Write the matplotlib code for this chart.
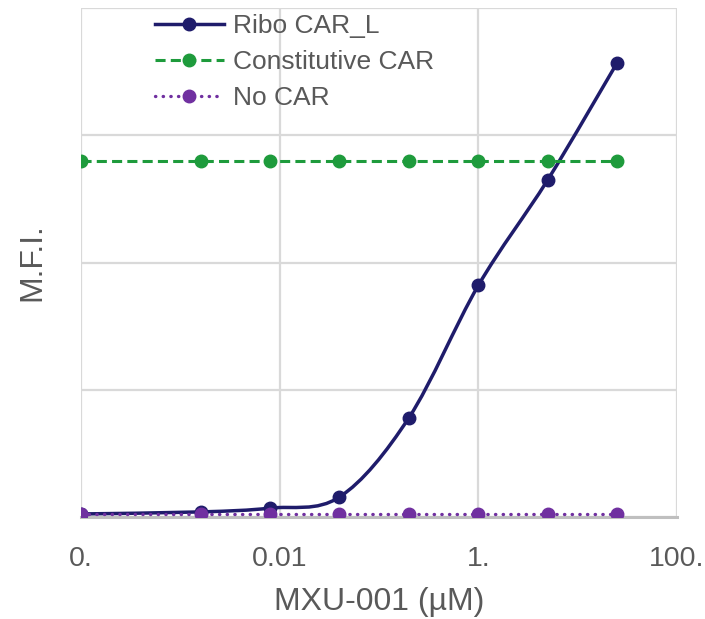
import numpy as np
import matplotlib.pyplot as plt
from matplotlib.path import Path
from matplotlib.patches import PathPatch
from matplotlib.lines import Line2D

plt.rcParams['font.family'] = ['Liberation Sans', 'DejaVu Sans']

# MXU-001 concentrations (uM); first point is the "0" dose drawn at the axis minimum
conc = [0.0001, 0.0016, 0.008, 0.04, 0.2, 1.0, 5.0, 25.0]
ribo = [0.024, 0.04, 0.07, 0.157, 0.78, 1.82, 2.65, 3.57]
constitutive = [2.80] * 8
no_car = [0.02] * 8

xticks = [0.0001, 0.01, 1, 100]
xticklabels = ["0.", "0.01", "1.", "100."]

navy = "#1f1c6b"
green = "#1e9b3c"
purple = "#7030a0"
grey_text = "#595959"


def smooth_path(xs, ys):
    # excel-like smoothed line: catmull-rom converted to cubic bezier in (log x, y)
    lx = np.log10(xs)
    y = np.asarray(ys, float)
    pts = np.column_stack([lx, y])
    n = len(pts)
    verts = [pts[0]]
    codes = [Path.MOVETO]
    for i in range(n - 1):
        p0 = pts[max(i - 1, 0)]
        p1 = pts[i]
        p2 = pts[i + 1]
        p3 = pts[min(i + 2, n - 1)]
        c1 = p1 + (p2 - p0) / 6.0
        c2 = p2 - (p3 - p1) / 6.0
        verts += [c1, c2, p2]
        codes += [Path.CURVE4] * 3
    verts = np.array(verts)
    verts[:, 0] = 10 ** verts[:, 0]
    return Path(verts, codes)


fig = plt.figure(figsize=(7.05, 6.19), dpi=100)
ax = fig.add_axes([81 / 705, 1 - 517 / 619, (677 - 81) / 705, (517 - 8) / 619])
ax.set_xscale("log")

# Ribo CAR_L: smooth line + markers
ax.add_patch(PathPatch(smooth_path(conc, ribo), facecolor="none", edgecolor=navy,
                       lw=2.5, zorder=3, capstyle="round"))
ax.plot(conc, ribo, ls="none", marker="o", ms=9, color=navy, zorder=3.1)

ax.plot(conc, constitutive, color=green, lw=2.2, dashes=(3.3, 1.7),
        marker="o", ms=9, zorder=4)
ax.plot(conc, no_car, color=purple, lw=2.4, dashes=(0.1, 2.2), dash_capstyle="round",
        marker="o", ms=9, zorder=5)

ax.set_xlim(0.0001, 100)
ax.set_ylim(0, 4)
ax.set_xticks(xticks)
ax.set_xticklabels(xticklabels)
ax.minorticks_off()
ax.set_yticks([0, 1, 2, 3, 4])
ax.set_yticklabels([])
ax.tick_params(axis="x", length=0, labelsize=20.5, colors=grey_text, pad=21)
ax.tick_params(axis="y", length=0, pad=0)
ax.grid(True, color="#d9d9d9", lw=1.6)
ax.set_axisbelow(True)
for s in ["left", "right", "top"]:
    ax.spines[s].set_visible(False)
ax.spines["bottom"].set_color("#bfbfbf")
ax.spines["bottom"].set_linewidth(2.2)
ax.spines["bottom"].set_zorder(2)

ax.set_xlabel("MXU-001 (µM)", fontsize=23, color=grey_text, labelpad=11)
ax.set_ylabel("M.F.I.", fontsize=23, color=grey_text, labelpad=24)

handles = [
    Line2D([], [], color=navy, lw=2.5, marker="o", ms=9),
    Line2D([], [], color=green, lw=2.2, dashes=(3.3, 1.7), marker="o", ms=9),
    Line2D([], [], color=purple, lw=2.4, dashes=(0.1, 2.2), dash_capstyle="round",
           marker="o", ms=9),
]
labels = ["Ribo CAR_L", "Constitutive CAR", "No CAR"]
leg = fig.legend(handles, labels, loc="upper left",
                 bbox_to_anchor=(155 / 705, 1 - 14 / 619), frameon=False,
                 fontsize=19, handlelength=2.6, handletextpad=0.35,
                 labelspacing=0.45, borderpad=0, borderaxespad=0)
for t in leg.get_texts():
    t.set_color(grey_text)

fig.savefig("out.png", dpi=100)
